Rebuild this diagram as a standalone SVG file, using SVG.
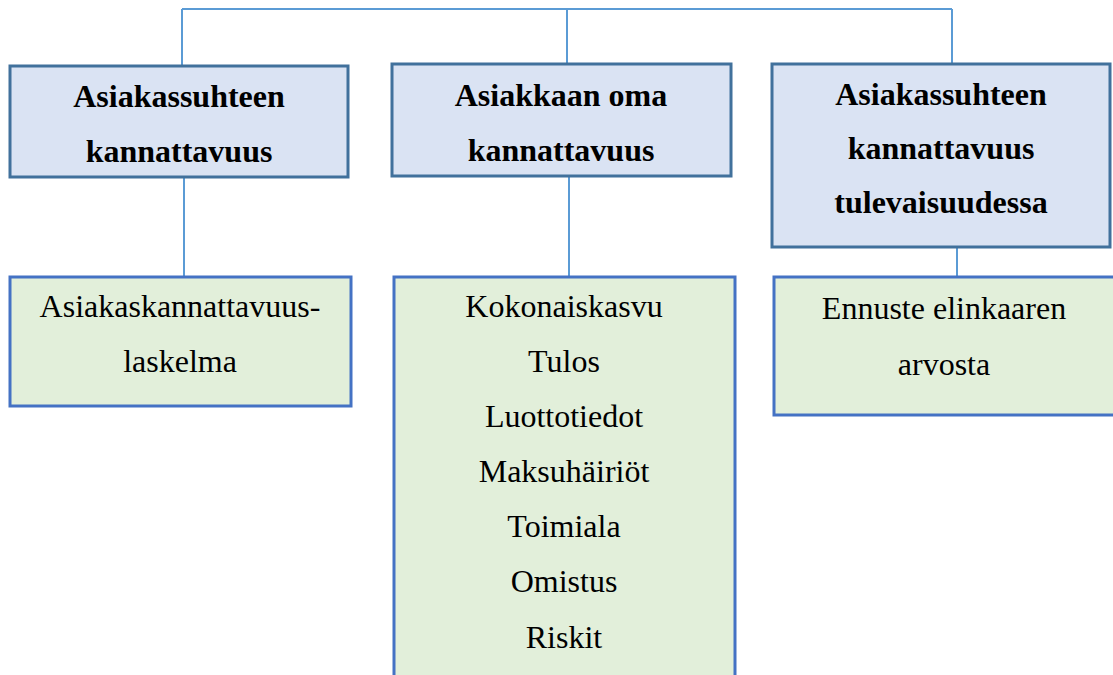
<svg xmlns="http://www.w3.org/2000/svg" width="1113" height="675" viewBox="0 0 1113 675">
<style>
.head rect{fill:#dae3f3;stroke:#41719c;stroke-width:3}
.item rect{fill:#e2efda;stroke:#4472c4;stroke-width:3}
.head text{font-family:"Liberation Serif","Times New Roman",serif;font-size:32px;font-weight:bold;fill:#000;text-anchor:middle}
.item text{font-family:"Liberation Serif","Times New Roman",serif;font-size:32px;fill:#000;text-anchor:middle}
.conn line{stroke:#5b9bd5;stroke-width:2;fill:none}
</style>
<rect width="1113" height="675" fill="#fff"/>
<g id="connectors" class="conn">
<line x1="182" y1="9" x2="952" y2="9"/>
<line x1="182" y1="9" x2="182" y2="66"/>
<line x1="567" y1="9" x2="567" y2="64"/>
<line x1="952" y1="9" x2="952" y2="64"/>
<line x1="184" y1="177" x2="184" y2="277"/>
<line x1="569" y1="176" x2="569" y2="277"/>
<line x1="957" y1="247" x2="957" y2="277"/>
</g>
<g id="node-asiakassuhteen" class="head">
<rect x="10" y="66" width="338" height="111"/>
<text x="179" y="107">Asiakassuhteen</text>
<text x="179" y="162">kannattavuus</text>
</g>
<g id="node-asiakkaan" class="head">
<rect x="392" y="64" width="339" height="112"/>
<text x="561" y="106">Asiakkaan oma</text>
<text x="561" y="161">kannattavuus</text>
</g>
<g id="node-tulevaisuudessa" class="head">
<rect x="772" y="64" width="338" height="183"/>
<text x="941" y="105">Asiakassuhteen</text>
<text x="941" y="159">kannattavuus</text>
<text x="941" y="213">tulevaisuudessa</text>
</g>
<g id="node-laskelma" class="item">
<rect x="10" y="277" width="341" height="129"/>
<text x="180" y="317">Asiakaskannattavuus-</text>
<text x="180" y="372">laskelma</text>
</g>
<g id="node-tekijat" class="item">
<rect x="394" y="277" width="341" height="420"/>
<text x="564" y="317">Kokonaiskasvu</text>
<text x="564" y="372">Tulos</text>
<text x="564" y="427">Luottotiedot</text>
<text x="564" y="482">Maksuhäiriöt</text>
<text x="564" y="537">Toimiala</text>
<text x="564" y="592">Omistus</text>
<text x="564" y="648">Riskit</text>
</g>
<g id="node-ennuste" class="item">
<rect x="774" y="277" width="341" height="138"/>
<text x="944" y="319">Ennuste elinkaaren</text>
<text x="944" y="375">arvosta</text>
</g>
</svg>
